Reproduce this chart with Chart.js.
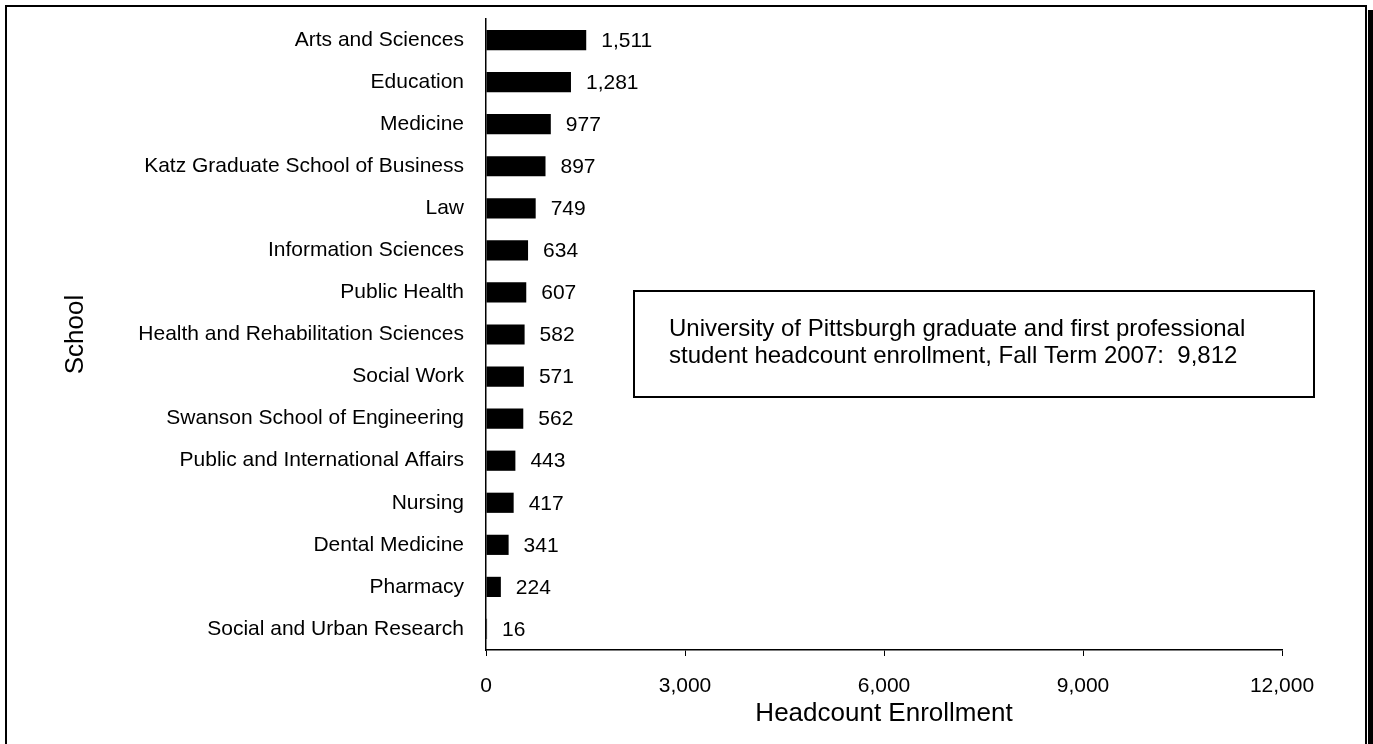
<!DOCTYPE html>
<html>
<head>
<meta charset="utf-8">
<script src="https://cdn.jsdelivr.net/npm/chart.js@4"></script>
<style>
  body { margin: 0; background: #fff; }
  canvas { display: block; }
</style>
</head>
<body>
<canvas id="myChart" width="1373" height="744"></canvas>
<script>
/* data */
const schools = [
  'Arts and Sciences',
  'Education',
  'Medicine',
  'Katz Graduate School of Business',
  'Law',
  'Information Sciences',
  'Public Health',
  'Health and Rehabilitation Sciences',
  'Social Work',
  'Swanson School of Engineering',
  'Public and International Affairs',
  'Nursing',
  'Dental Medicine',
  'Pharmacy',
  'Social and Urban Research'
];
const headcount = [1511, 1281, 977, 897, 749, 634, 607, 582, 571, 562, 443, 417, 341, 224, 16];
const xTicks = [0, 3000, 6000, 9000, 12000];
const noteLines = [
  'University of Pittsburgh graduate and first professional',
  'student headcount enrollment, Fall Term 2007:  9,812'
];

const FONT = '"Liberation Sans", Arial, sans-serif';
const fmt = v => v.toLocaleString('en-US');

/* frame round the whole picture, with a shadow on the right */
const framePlugin = {
  id: 'frame',
  beforeDraw(chart) {
    const c = chart.ctx;
    c.save();
    c.fillStyle = '#fff';
    c.fillRect(0, 0, chart.width, chart.height);
    c.fillStyle = '#000';
    c.fillRect(1368, 10, 6, chart.height);
    c.strokeStyle = '#000';
    c.lineWidth = 2;
    c.strokeRect(6, 6, 1360, chart.height + 20);
    c.restore();
  }
};

/* value next to each bar + the note box */
const labelsPlugin = {
  id: 'barLabels',
  afterDatasetsDraw(chart) {
    const c = chart.ctx;
    const meta = chart.getDatasetMeta(0);
    c.save();
    c.font = '21px ' + FONT;
    c.fillStyle = '#000';
    c.textAlign = 'left';
    c.textBaseline = 'middle';
    meta.data.forEach(function(bar, i) {
      c.fillText(fmt(headcount[i]), bar.x + 15, bar.y + 1);
    });

    // note box
    const a = chart.chartArea;
    const bx = a.left + 148, by = 291, bw = 680, bh = 106;
    c.lineWidth = 2;
    c.strokeStyle = '#000';
    c.strokeRect(bx, by, bw, bh);
    c.font = '24px ' + FONT;
    noteLines.forEach(function(line, i) {
      c.fillText(line, bx + 35, by + 38 + i * 27);
    });
    c.restore();
  }
};

new Chart(document.getElementById('myChart'), {
  type: 'bar',
  data: {
    labels: schools,
    datasets: [{
      label: 'Headcount Enrollment',
      data: headcount,
      backgroundColor: '#000',
      borderWidth: 0,
      barPercentage: 0.48,
      categoryPercentage: 1
    }]
  },
  options: {
    indexAxis: 'y',
    responsive: false,
    animation: false,
    devicePixelRatio: 1,
    layout: { padding: { left: 0, top: 19, right: 91, bottom: 0 } },
    plugins: {
      legend: { display: false },
      tooltip: { enabled: false }
    },
    scales: {
      x: {
        min: 0,
        max: 12000,
        afterBuildTicks: function(scale) {
          scale.ticks = xTicks.map(v => ({ value: v }));
        },
        afterFit: function(scale) { scale.height = 94; },
        grid: {
          drawOnChartArea: false,
          drawTicks: true,
          tickLength: 6,
          color: '#000'
        },
        border: { display: true, color: '#000', width: 1.5 },
        ticks: {
          padding: 18,
          color: '#000',
          font: { family: FONT, size: 21 },
          callback: v => fmt(v)
        },
        title: {
          display: true,
          text: 'Headcount Enrollment',
          color: '#000',
          font: { family: FONT, size: 26 },
          padding: { top: 0, bottom: 15 }
        }
      },
      y: {
        afterFit: function(scale) {
          scale.width = 486;
          scale.paddingTop = 0;
          scale.paddingBottom = 0;
        },
        grid: { display: false, drawTicks: false },
        border: { display: true, color: '#000', width: 1.5 },
        ticks: {
          padding: 22,
          color: '#000',
          font: { family: FONT, size: 21 }
        },
        title: {
          display: true,
          text: 'School',
          color: '#000',
          font: { family: FONT, size: 26 },
          padding: { top: 60, bottom: 0 }
        }
      }
    }
  },
  plugins: [framePlugin, labelsPlugin]
});
</script>
</body>
</html>
